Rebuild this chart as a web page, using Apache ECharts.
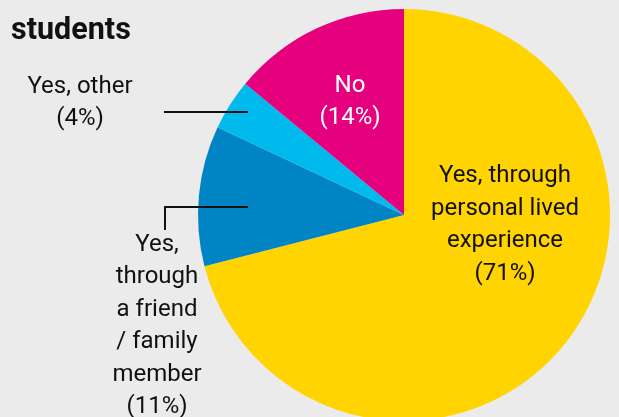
<!DOCTYPE html>
<html>
<head>
<meta charset="utf-8">
<script src="https://cdn.jsdelivr.net/npm/echarts@6/dist/echarts.min.js"></script>
<style>
html,body{margin:0;padding:0;background:#ebebeb;}
#main{width:619px;height:417px;}
</style>
</head>
<body>
<div id="main"></div>
<script>
var categories = ['Yes, through\npersonal lived\nexperience', 'Yes,\nthrough\na friend\n/ family\nmember', 'Yes, other', 'No']
var values = [71, 11, 4, 14]
var colors = ['#ffd400', '#0084c4', '#00baee', '#e5007d']

// where each label sits and how its leader line runs
var labelSpots = [
	{x: 505, y: 225, line: null},
	{x: 157, y: 326, line: [[248, 207], [165, 207], [165, 230]]},
	{x: 80, y: 103, line: [[248, 112], [164, 112]]},
	{x: 350, y: 102, line: null}
]

var chart = echarts.init(document.getElementById('main'))

var pieData = categories.map(function(name, i){
	return {
		name: name,
		value: values[i],
		itemStyle: {color: colors[i]},
		label: {color: i === 3 ? '#fff' : '#111'}
	}
})

// leader lines drawn over the slices
var leaders = []
labelSpots.forEach(function(s){
	if(s.line){
		leaders.push({
			type: 'polyline',
			z: 100,
			silent: true,
			shape: {points: s.line},
			style: {stroke: '#111', lineWidth: 2, fill: null}
		})
	}
})

var option = {
	backgroundColor: '#ebebeb',
	animation: false,
	title: {
		text: 'students',
		left: 6,
		top: 11,
		textStyle: {
			fontFamily: 'Roboto',
			fontSize: 30.5,
			fontWeight: 'bold',
			color: '#111'
		}
	},
	graphic: leaders,
	series: [
		{
			type: 'pie',
			center: [404, 215],
			radius: 206,
			startAngle: 90,
			clockwise: true,
			silent: true,
			data: pieData,
			label: {
				show: true,
				position: 'inside',
				formatter: '{b}\n({c}%)',
				fontFamily: 'Roboto',
				fontSize: 24,
				lineHeight: 32.5,
				align: 'center'
			},
			labelLine: {show: false},
			labelLayout: function(params){
				var s = labelSpots[params.dataIndex]
				return {x: s.x, y: s.y, align: 'center', verticalAlign: 'middle'}
			}
		}
	]
}

chart.setOption(option)
</script>
</body>
</html>
